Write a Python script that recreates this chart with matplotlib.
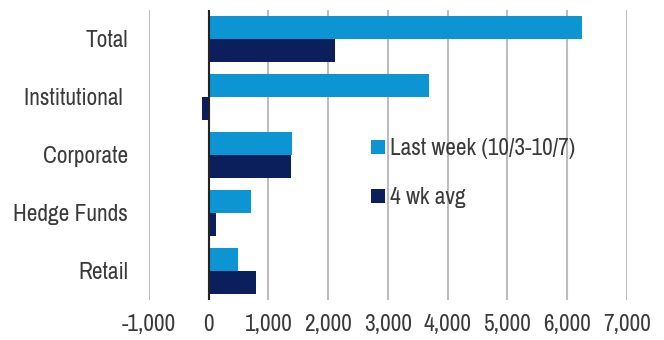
import matplotlib.pyplot as plt
import numpy as np
from matplotlib import font_manager

categories = ['Total', 'Institutional ', 'Corporate', 'Hedge Funds', 'Retail']
last_week = [6250, 3680, 1400, 710, 490]
four_wk_avg = [2120, -110, 1380, 120, 790]
xticks = [-1000, 0, 1000, 2000, 3000, 4000, 5000, 6000, 7000]

# prefer a condensed face if one is around
names = sorted({f.name for f in font_manager.fontManager.ttflist})
narrow = [n for n in names if 'Narrow' in n or 'Condensed' in n]
plt.rcParams['font.family'] = narrow[:1] + ['Liberation Sans', 'DejaVu Sans']

light = '#0d94d2'
dark = '#0a1f5c'
txt = '#3a3a3a'
fs = 16.8 if narrow else 13.5

fig = plt.figure(figsize=(6.64, 3.40), dpi=100)
ax = fig.add_axes([0.2244, 0.118, 0.7196, 0.853])

y = np.arange(len(categories))
h = 0.4
ax.barh(y - h / 2, last_week, height=h, color=light, label='Last week (10/3-10/7)', zorder=2)
ax.barh(y + h / 2, four_wk_avg, height=h, color=dark, label='4 wk avg', zorder=2)

ax.set_ylim(len(categories) - 0.5, -0.5)
ax.set_xlim(-1000, 7000)
ax.set_yticks(y)
ax.set_yticklabels(categories, fontsize=fs, color=txt)
ax.set_xticks(xticks)
ax.set_xticklabels([f'{v:,}' for v in xticks], fontsize=fs, color=txt)
ax.tick_params(axis='both', length=0)
ax.tick_params(axis='y', pad=15)
ax.tick_params(axis='x', pad=10)

ax.grid(axis='x', color='#bdbdbd', linewidth=1.5, zorder=0)
ax.set_axisbelow(True)
for s in ax.spines.values():
    s.set_visible(False)
ax.axvline(0, color='#222222', linewidth=1.5, zorder=3)

ax.legend(loc='upper left', bbox_to_anchor=(0.421, 0.63), frameon=False,
          fontsize=fs, handlelength=0.6, handleheight=0.6, handletextpad=0.2,
          labelspacing=1.2, labelcolor=txt)

fig.savefig('out.png', dpi=100)
